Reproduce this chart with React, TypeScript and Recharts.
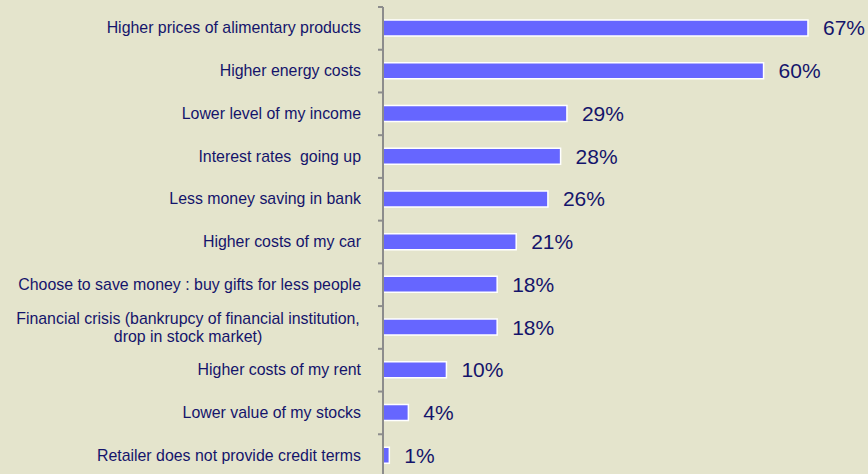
import React from 'react';
import { BarChart, Bar, XAxis, YAxis, LabelList } from 'recharts';

const categories = [
  'Higher prices of alimentary products',
  'Higher energy costs',
  'Lower level of my income',
  'Interest rates  going up',
  'Less money saving in bank',
  'Higher costs of my car',
  'Choose to save money : buy gifts for less people',
  'Financial crisis (bankrupcy of financial institution,\ndrop in stock market)',
  'Higher costs of my rent',
  'Lower value of my stocks',
  'Retailer does not provide credit terms',
];
const values = [67, 60, 29, 28, 26, 21, 18, 18, 10, 4, 1];

const data = categories.map((name, i) => ({ name, value: values[i] }));

const W = 868;
const H = 477;
const TOP = 7;
const AXIS_X = 383;
const TEXT = '#14146b';
const FONT = 'Liberation Sans, Arial, sans-serif';
const band = (H - TOP) / categories.length;

const CategoryTick = (props: any) => {
  const { x, y, payload, index } = props;
  const lines = String(payload.value).split('\n');
  const tickX = AXIS_X;
  return (
    <g>
      <line x1={tickX - 5} x2={tickX} y1={y - band / 2} y2={y - band / 2} stroke="#8c8c8c" strokeWidth={2} />
      {index === categories.length - 1 && (
        <line x1={tickX - 5} x2={tickX} y1={y + band / 2} y2={y + band / 2} stroke="#8c8c8c" strokeWidth={2} />
      )}
      {lines.length === 1 ? (
        <text x={x - 14} y={y} dy={5} textAnchor="end" fontSize={15.9} fill={TEXT} fontFamily={FONT} style={{ whiteSpace: 'pre' }}>
          {lines[0]}
        </text>
      ) : (
        <text x={x - 187} y={y} textAnchor="middle" fontSize={15.9} fill={TEXT} fontFamily={FONT}>
          {lines.map((l, i) => (
            <tspan key={i} x={x - 187} dy={i === 0 ? -3 : 18}>
              {l}
            </tspan>
          ))}
        </text>
      )}
    </g>
  );
};

export default function App() {
  return (
    <div style={{ position: 'fixed', left: 0, top: 0, width: W, height: 474, overflow: 'hidden', background: '#e4e4cc' }}>
      <BarChart
        width={W}
        height={H}
        data={data}
        layout="vertical"
        margin={{ top: TOP, right: 41, bottom: 0, left: 0 }}
        barCategoryGap={0}
      >
        <XAxis type="number" domain={[0, 70]} hide />
        <YAxis
          type="category"
          dataKey="name"
          width={AXIS_X}
          axisLine={{ stroke: '#8c8c8c', strokeWidth: 2 }}
          tickLine={false}
          tick={<CategoryTick />}
          interval={0}
        />
        <Bar dataKey="value" fill="#6666ff" stroke="#ffffff" strokeWidth={1.5} barSize={16} isAnimationActive={false}>
          <LabelList
            dataKey="value"
            position="right"
            offset={15}
            formatter={(v: any) => `${v}%`}
            fill={TEXT}
            fontSize={21}
            fontFamily={FONT}
          />
        </Bar>
      </BarChart>
    </div>
  );
}
